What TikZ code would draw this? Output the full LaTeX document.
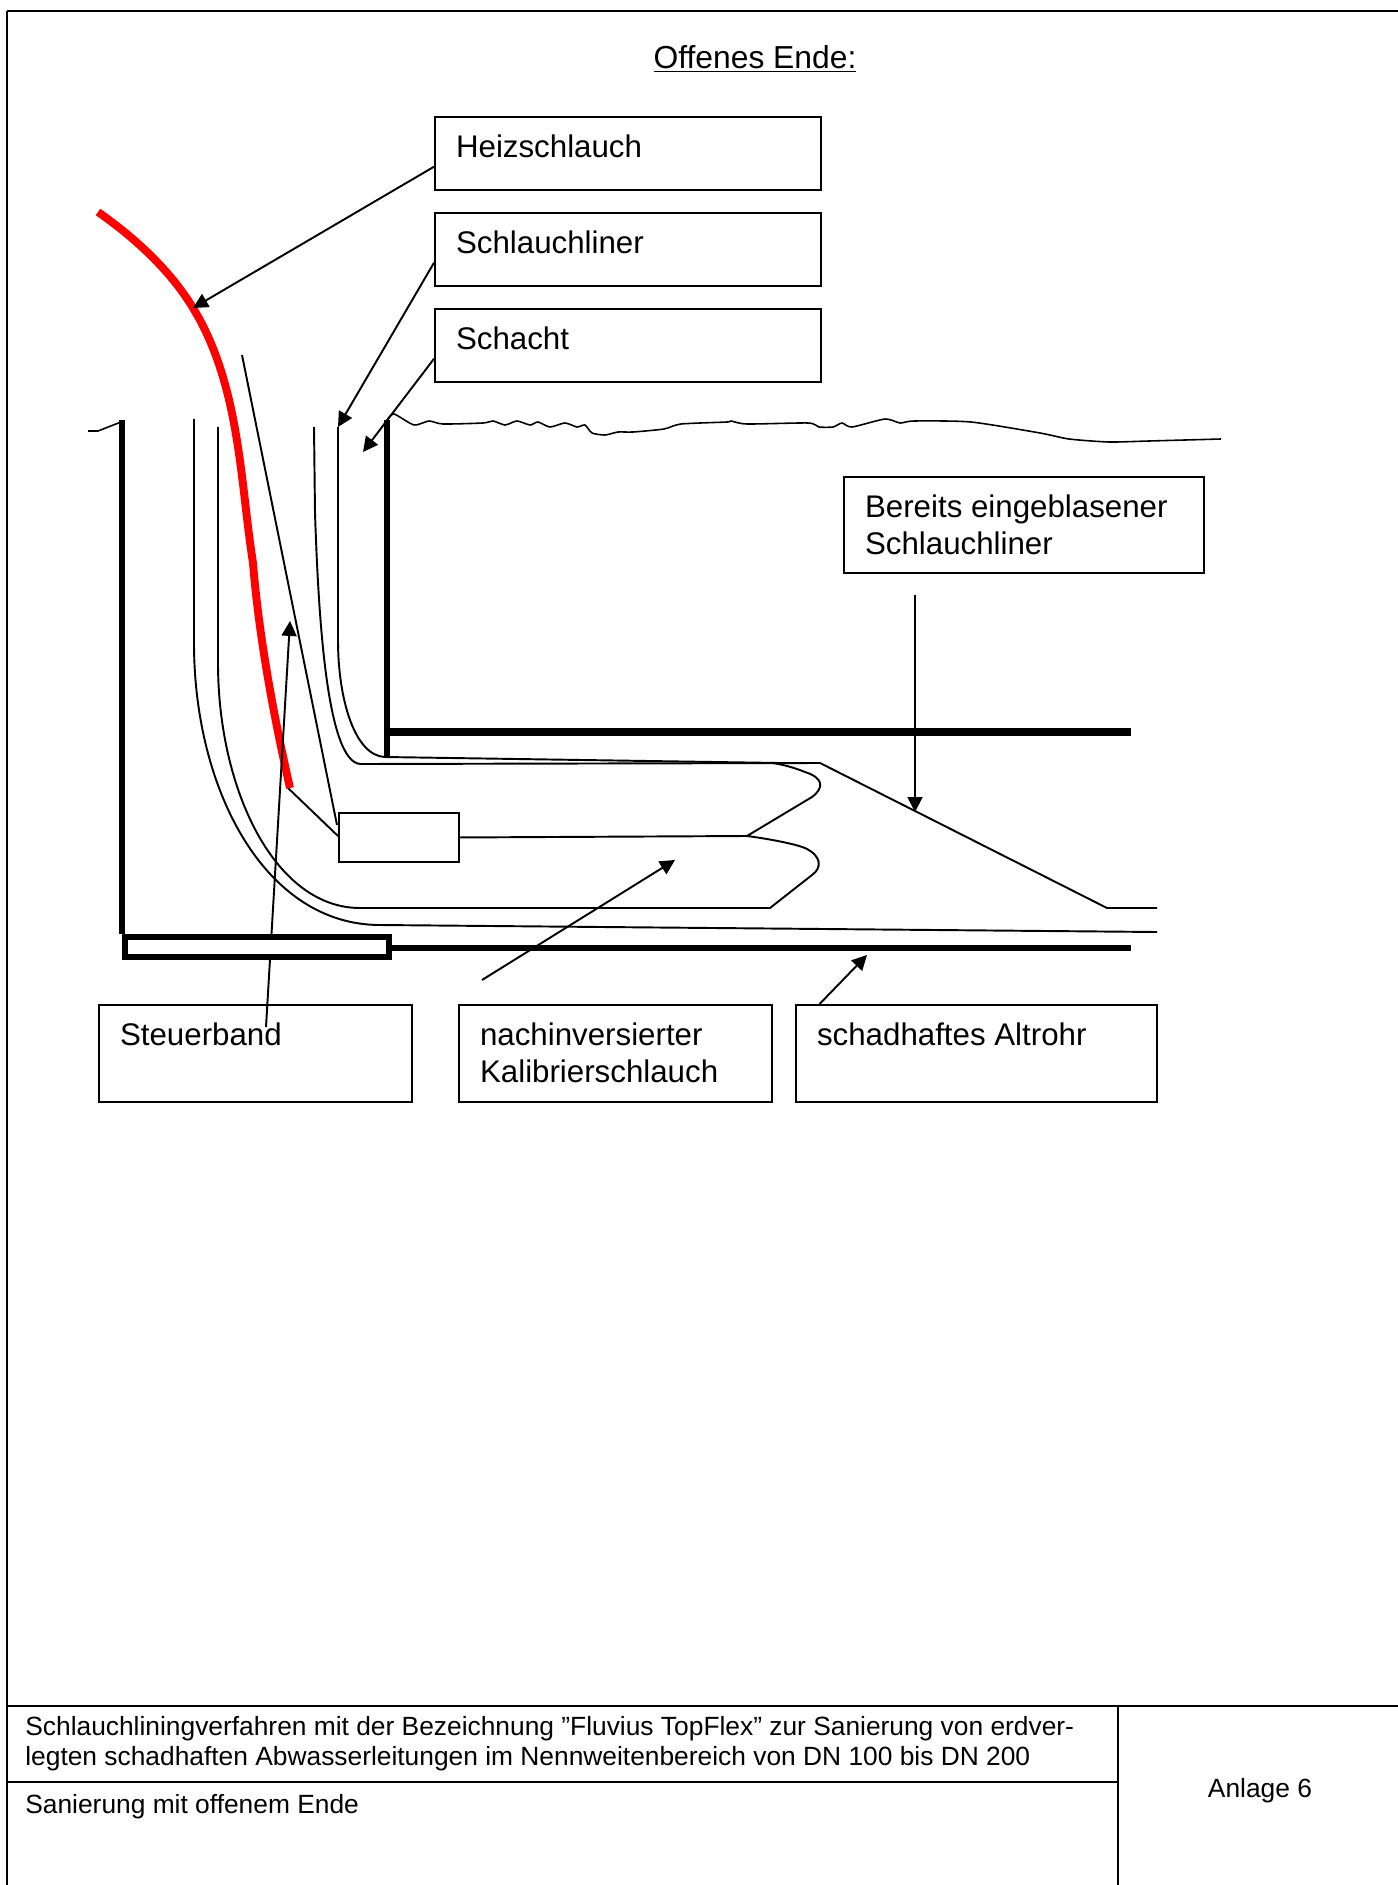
\documentclass[tikz,border=0pt]{standalone}
\usepackage{fontspec}
\setmainfont{Liberation Sans}
\usetikzlibrary{arrows.meta}
\newlength{\pxu}
\setlength{\pxu}{0.02cm}
\newcommand{\lbl}[3]{\parbox[t][#2\pxu][t]{#1\pxu}{\strut #3}}
\tikzset{
    lbox/.style={draw,line width=1.2pt,anchor=north west,inner xsep=21\pxu,inner ysep=15\pxu,
        font=\fontsize{17.8}{21}\selectfont},
    ftext/.style={inner sep=0pt,align=left,font=\fontsize{15}{17}\selectfont},
    tline/.style={draw,line width=1.1pt},
    wall/.style={draw,line width=3.2pt},
    fwall/.style={draw,line width=4pt},
    heiz/.style={draw=red,line width=4.5pt},
    rule/.style={draw,line width=.9pt},
    arr/.style={draw,line width=1.1pt,-{Triangle[length=8.5pt,width=8.5pt]}},
}
\begin{document}
\begin{tikzpicture}[x=0.02cm,y=-0.02cm]
\useasboundingbox (0,0) rectangle (1398,1885);
\coordinate (heiztip) at (193,308);
\coordinate (linertip) at (338,427);
\coordinate (schachttip) at (363,452);
\coordinate (bandfoot) at (266,1027);
\coordinate (bandtip) at (290,621);
\coordinate (kalfoot) at (482,980);
\coordinate (kaltip) at (675,860);
\coordinate (rohrtip) at (867,955);
\coordinate (bereitsfoot) at (915,595);
\coordinate (bereitstip) at (915,812);
\node[inner sep=0pt,anchor=base,font=\fontsize{18.1}{21}\selectfont] (title) at (755,69) {\underline{Offenes Ende:}};
\node[lbox] (heizbox) at (434,116) {\lbl{344}{43}{Heizschlauch}};
\node[lbox] (linerbox) at (434,212) {\lbl{344}{43}{Schlauchliner}};
\node[lbox] (schachtbox) at (434,308) {\lbl{344}{43}{Schacht}};
\node[lbox] (bereitsbox) at (843,476) {\lbl{318}{66}{Bereits eingeblasener\\Schlauchliner}};
\node[lbox] (bandbox) at (98,1004) {\lbl{271}{67}{Steuerband}};
\node[lbox] (kalbox) at (458,1004) {\lbl{271}{67}{nachinversierter\\Kalibrierschlauch}};
\node[lbox] (rohrbox) at (795,1004) {\lbl{319}{67}{schadhaftes Altrohr}};
% ground and walls
\draw[tline,line width=.9pt] (88,431) -- (98,431) -- (121,422);
\draw[tline,line width=.9pt] plot[smooth,tension=.4] coordinates {(387,420) (394,414) (414,425) (429,421) (443,424) (483,423) (493,421) (505,425) (517,421) (530,425) (538,422) (550,427) (565,423) (577,427) (585,425) (592,433) (605,435) (618,432) (633,432) (664,429) (681,424) (727,422) (731,421) (747,424) (808,423) (819,427) (833,427) (842,423) (852,427) (885,419) (900,423) (914,421) (971,422) (1040,433) (1069,439) (1109,442) (1149,441) (1221,439)};
\draw[wall] (122,420) -- (122,934);
\draw[wall] (387,420) -- (387,758);
\draw[fwall] (385,732) -- (1131,732);
\draw[wall,line width=3.4pt] (386,948) -- (1131,948);
% liner and calibration hose
\draw[tline] (194,419) -- (194,643) .. controls (194,790) and (265,925) .. (380,925) -- (1157,932);
\draw[tline] (218,427) -- (218,663) .. controls (218,790) and (275,908) .. (360,908) -- (770,908) -- (812,875) .. controls (822,868) and (822,856) .. (805,848) .. controls (795,844) and (770,839) .. (747,836) -- (812,797) .. controls (824,788) and (824,778) .. (805,772) .. controls (795,768) and (785,765) .. (773,763);
\draw[tline] (314,427) -- (315,513) .. controls (318,600) and (325,764) .. (361,764) -- (820,763) -- (1107,908) -- (1157,908);
\draw[tline] (338,427) -- (338,640) .. controls (338,700) and (355,756) .. (385,757) -- (780,763);
\draw[tline] (242,355) -- (337,825);
\draw[tline] (288,788) -- (338,836);
\draw[heiz] (98,212) .. controls (135,238) and (170,270) .. (193,308) .. controls (240,385) and (240,480) .. (253,563) .. controls (258,625) and (270,700) .. (290,788);
% arrows
\path[arr] ([yshift=-7.5pt]heizbox.west) -- (heiztip);
\path[arr] ([yshift=-7.5pt]linerbox.west) -- (linertip);
\path[arr] ([yshift=-7.5pt]schachtbox.west) -- (schachttip);
\path[arr] (bandfoot) -- (bandtip);
\path[arr] (kalfoot) -- (kaltip);
\path[arr] ([xshift=14pt]rohrbox.north west) -- (rohrtip);
\path[arr] (bereitsfoot) -- (bereitstip);
% winch and control band
\node[draw,line width=1.1pt,fill=white,minimum width=120\pxu,minimum height=49\pxu,inner sep=0pt,anchor=north west] (winch) at (338,812) {};
\draw[tline] (winch.east) -- (747,836);
\node[draw,line width=3.2pt,fill=white,minimum width=264\pxu,minimum height=20\pxu,inner sep=0pt,anchor=north west] (bandrect) at (122,934) {};
% footer
\draw[rule] (7,11) -- (1398,11);
\draw[rule] (7,11) -- (7,1885);
\draw[rule,line width=1.3pt] (7,1706) -- (1398,1706);
\draw[rule,line width=1.3pt] (7,1782) -- (1118,1782);
\draw[rule] (1118,1706) -- (1118,1885);
\node[ftext,anchor=north west] (ftitle) at (25,1716) {Schlauchliningverfahren mit der Bezeichnung "Fluvius TopFlex" zur Sanierung von erdver-\\legten schadhaften Abwasserleitungen im Nennweitenbereich von DN 100 bis DN 200};
\node[ftext,anchor=base west] (fsub) at (25,1813) {Sanierung mit offenem Ende};
\node[ftext,anchor=base] (fanlage) at (1260,1797) {Anlage 6};
\end{tikzpicture}
\end{document}
